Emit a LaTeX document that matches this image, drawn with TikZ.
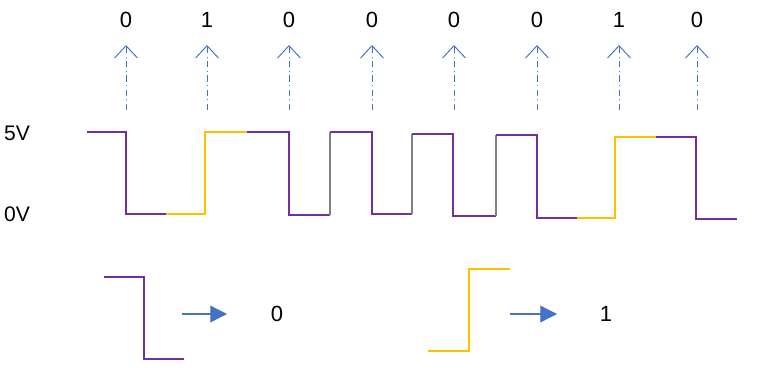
\documentclass[tikz,border=0pt]{standalone}
\usepackage{fontspec}
\setmainfont{Liberation Sans}
\usepackage{tikz}
\usetikzlibrary{arrows.meta}
\definecolor{wPurple}{HTML}{7030A0}
\definecolor{wYellow}{HTML}{FFC000}
\definecolor{wGray}{HTML}{808080}
\definecolor{wBlue}{HTML}{4472C4}

\begin{document}
\begin{tikzpicture}[
  x=0.02cm, y=-0.02cm,
  lvl/.style={font=\fontsize{12}{14}\selectfont},
  bit/.style={font=\fontsize{12.5}{14}\selectfont},
  lo/.style={wPurple, line width=0.6pt},
  hi/.style={wYellow, line width=0.6pt},
  edge/.style={wGray, line width=0.6pt},
  readout/.style={wBlue, line width=0.55pt,
    dash pattern=on 3.5pt off 2pt on 0.6pt off 2pt,
    -{Straight Barb[length=7pt, width=13pt]}},
  decode/.style={wBlue, line width=0.7pt, -{Triangle[length=9.5pt, width=9.5pt]}},
]
  \useasboundingbox (0,0) rectangle (759,385);

  % voltage levels
  \node[lvl] (v5) at (17,133) {5V};
  \node[lvl] (v0) at (17,214) {0V};

  % waveform
  \draw[lo] (87,132) -- (126,132) -- (126,214) -- (166,214);
  \draw[hi] (166,214) -- (205,214) -- (205,132) -- (247,132);
  \draw[lo] (247,132) -- (289,132) -- (289,215) -- (330,215);
  \draw[edge] (330,215) -- (330,132);
  \draw[lo] (330,132) -- (372,132) -- (372,214) -- (412,214);
  \draw[edge] (412,214) -- (412,134);
  \draw[lo] (412,134) -- (453,134) -- (453,216) -- (496,216);
  \draw[edge] (496,216) -- (496,135);
  \draw[lo] (496,135) -- (537,135) -- (537,218) -- (577,218);
  \draw[hi] (577,218) -- (615,218) -- (615,137) -- (656,137);
  \draw[lo] (656,137) -- (696,137) -- (696,219) -- (737,219);

  % sampled bits
  \node[bit] (b1) at (126,20) {0};
  \node[bit] (b2) at (207,20) {1};
  \node[bit] (b3) at (289,20) {0};
  \node[bit] (b4) at (372,20) {0};
  \node[bit] (b5) at (454,20) {0};
  \node[bit] (b6) at (537,20) {0};
  \node[bit] (b7) at (619,20) {1};
  \node[bit] (b8) at (697,20) {0};

  \coordinate (s1) at (126,110);
  \coordinate (s2) at (207,110);
  \coordinate (s3) at (289,110);
  \coordinate (s4) at (372,110);
  \coordinate (s5) at (454,110);
  \coordinate (s6) at (537,110);
  \coordinate (s7) at (619,110);
  \coordinate (s8) at (697,110);
  \draw[readout] (s1) -- (b1.south |- 0,45);
  \draw[readout] (s2) -- (b2.south |- 0,45);
  \draw[readout] (s3) -- (b3.south |- 0,45);
  \draw[readout] (s4) -- (b4.south |- 0,45);
  \draw[readout] (s5) -- (b5.south |- 0,45);
  \draw[readout] (s6) -- (b6.south |- 0,45);
  \draw[readout] (s7) -- (b7.south |- 0,45);
  \draw[readout] (s8) -- (b8.south |- 0,45);

  % legend: falling edge -> 0, rising edge -> 1
  \draw[lo] (104,277) -- (144,277) -- (144,359) -- (184,359);
  \coordinate (fallout) at (182,314);
  \coordinate (fallin) at (227,314);
  \node[bit] (fallbit) at (277,314) {0};
  \draw[decode] (fallout) -- (fallin);

  \draw[hi] (428,351) -- (469,351) -- (469,269) -- (510,269);
  \coordinate (riseout) at (510,314);
  \coordinate (risein) at (557,314);
  \node[bit] (risebit) at (606,314) {1};
  \draw[decode] (riseout) -- (risein);
\end{tikzpicture}
\end{document}
